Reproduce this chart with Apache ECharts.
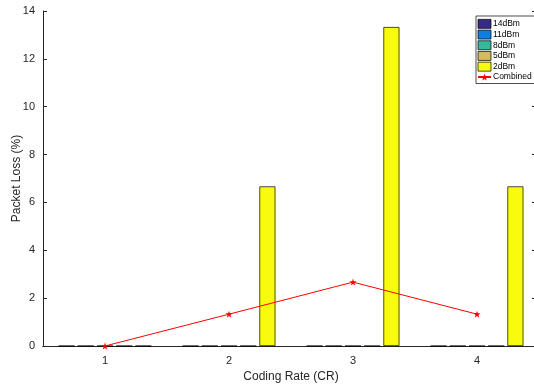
<!DOCTYPE html>
<html>
<head>
<meta charset="utf-8">
<script src="https://cdn.jsdelivr.net/npm/echarts@6/dist/echarts.min.js"></script>
<style>
  html, body { margin: 0; padding: 0; background: #fff; overflow: hidden; }
  #chart { width: 534px; height: 387px; }
</style>
</head>
<body>
<div id="chart"></div>
<script>
// data
const categories = ['1', '2', '3', '4'];
const powerNames = ['14dBm', '11dBm', '8dBm', '5dBm', '2dBm'];
const loss14 = [0, 0, 0, 0];
const loss11 = [0, 0, 0, 0];
const loss8 = [0, 0, 0, 0];
const loss5 = [0, 0, 0, 0];
const loss2 = [0, 6.67, 13.33, 6.67];
const combined = [0, 1.33, 2.67, 1.33];

const barColors = ['#352a87', '#0f7ee0', '#35b89c', '#d5bb5c', '#f9fb0e'];
const axisColor = '#262626';
const font = 'Liberation Sans, Arial, sans-serif';
const star = 'path://M0,-10L2.35,-3.24L9.51,-3.09L3.8,1.24L5.88,8.09L0,4L-5.88,8.09L-3.8,1.24L-9.51,-3.09L-2.35,-3.24Z';

const barData = [loss14, loss11, loss8, loss5, loss2];

const barSeries = powerNames.map((name, i) => ({
  name,
  type: 'bar',
  data: barData[i],
  barWidth: 16,
  barGap: '20%',
  itemStyle: { color: barColors[i], borderColor: '#000', borderWidth: 0.7 },
  emphasis: { disabled: true },
  z: 2
}));

const chart = echarts.init(document.getElementById('chart'));
chart.setOption({
  animation: false,
  backgroundColor: '#fff',
  textStyle: { fontFamily: font },
  grid: { left: 43, top: 11, right: -5, bottom: 41, outerBoundsMode: 'none', containLabel: false },
  legend: {
    orient: 'vertical',
    left: 476,
    top: 16,
    itemWidth: 13,
    itemHeight: 9,
    itemGap: 1,
    padding: [3, 3, 2, 1],
    borderColor: '#000',
    borderWidth: 0.7,
    backgroundColor: '#fff',
    textStyle: { fontSize: 8.5, color: '#000', fontFamily: font, padding: [0, 0, 0, -3] },
    data: powerNames.map(n => ({
      name: n,
      icon: 'rect',
      itemStyle: { borderColor: '#000', borderWidth: 0.7 }
    })).concat([{ name: 'Combined' }])
  },
  xAxis: [
    {
      type: 'category',
      data: categories,
      boundaryGap: true,
      name: 'Coding Rate (CR)',
      nameLocation: 'middle',
      nameGap: 24,
      nameTextStyle: { fontSize: 12, color: axisColor },
      axisLine: { lineStyle: { color: axisColor, width: 1 } },
      axisTick: { alignWithLabel: true, inside: true, length: 4, lineStyle: { color: axisColor } },
      axisLabel: { fontSize: 11, color: axisColor, margin: 9 },
      splitLine: { show: false }
    },
    {
      type: 'category',
      data: categories,
      position: 'top',
      boundaryGap: true,
      axisLine: { lineStyle: { color: axisColor, width: 1 } },
      axisTick: { alignWithLabel: true, inside: true, length: 4, lineStyle: { color: axisColor } },
      axisLabel: { show: false }
    }
  ],
  yAxis: [
    {
      type: 'value',
      min: 0,
      max: 14,
      interval: 2,
      name: 'Packet Loss (%)',
      nameLocation: 'middle',
      nameGap: 20,
      nameMoveOverlap: false,
      nameTextStyle: { fontSize: 12, color: axisColor },
      axisLine: { show: true, lineStyle: { color: axisColor, width: 1 } },
      axisTick: { show: true, inside: true, length: 4, lineStyle: { color: axisColor } },
      axisLabel: { fontSize: 11, color: axisColor, margin: 8 },
      splitLine: { show: false }
    },
    {
      type: 'value',
      min: 0,
      max: 14,
      interval: 2,
      position: 'right',
      axisLine: { show: true, lineStyle: { color: axisColor, width: 1 } },
      axisTick: { show: true, inside: true, length: 7, lineStyle: { color: axisColor } },
      axisLabel: { show: false },
      splitLine: { show: false }
    }
  ],
  series: barSeries.concat([
    {
      name: 'Combined',
      type: 'line',
      data: combined,
      symbol: star,
      symbolSize: 7,
      lineStyle: { color: '#ff0000', width: 1 },
      itemStyle: { color: '#ff0000' },
      emphasis: { disabled: true },
      z: 5
    }
  ])
});
</script>
</body>
</html>
